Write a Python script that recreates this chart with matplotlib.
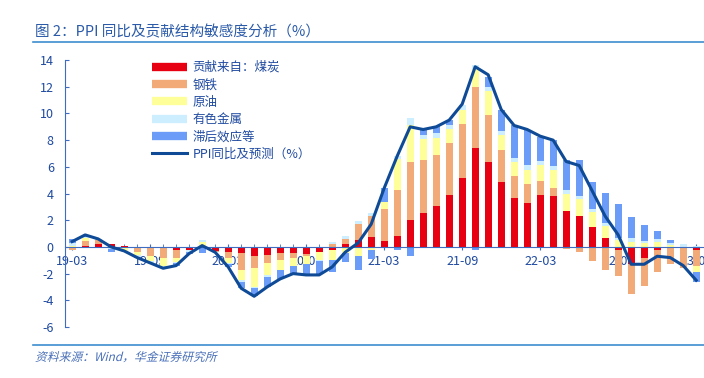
import matplotlib
matplotlib.use("Agg")
import matplotlib.pyplot as plt
from matplotlib.lines import Line2D
from matplotlib.patches import PathPatch
from matplotlib.textpath import TextPath
from matplotlib.font_manager import FontProperties
from matplotlib.transforms import Affine2D
import numpy as np

plt.rcParams['font.family'] = ['Noto Sans CJK SC', 'DejaVu Sans']
plt.rcParams['axes.unicode_minus'] = False

# 月度数据 2019-03 ~ 2023-03
tick_labels = ["19-03", "19-09", "20-03", "20-09", "21-03", "21-09", "22-03", "22-09", "23-03"]

coal = [-0.1, 0.1, 0.25, 0.2, 0.1, 0.0, 0.0, 0.0, -0.2, -0.25,
        0.0, -0.3, -0.35, -0.45, -0.65, -0.6, -0.45, -0.45, -0.5, -0.4,
        -0.2, 0.2, 0.55, 0.75, 0.45, 0.85, 2.0, 2.55, 3.1, 3.9,
        5.2, 7.4, 6.35, 4.85, 3.7, 3.3, 3.9, 3.85, 2.7, 2.3,
        1.5, 0.7, -0.2, -1.25, -0.8, -0.2, 0.0, 0.0, -0.25]
steel = [-0.1, 0.35, 0.3, 0.05, -0.1, -0.4, -0.7, -0.85, -0.6, 0.0,
         0.05, -0.1, -0.45, -1.25, -0.95, -0.6, -0.55, -0.4, -0.2, 0.0,
         0.25, 0.4, 1.15, 1.55, 2.4, 3.4, 4.4, 4.0, 3.8, 3.9,
         4.0, 4.6, 3.55, 2.45, 1.65, 1.45, 1.05, 0.6, -0.15, -0.4,
         -1.05, -1.7, -2.0, -2.3, -2.15, -1.7, -1.3, -1.6, -1.15]
oil = [0.1, 0.2, 0.0, -0.05, -0.2, -0.2, -0.35, -0.55, -0.35, 0.0,
       0.35, 0.0, -0.4, -0.8, -1.4, -0.9, -0.7, -0.55, -0.55, -0.6,
       -0.75, -0.45, -0.65, -0.2, 0.55, 2.35, 2.75, 1.5, 1.25, 1.05,
       1.05, 1.3, 1.8, 1.1, 1.0, 1.05, 1.2, 1.3, 1.25, 1.3,
       1.1, 0.9, 0.5, 0.4, 0.3, 0.4, 0.15, 0.0, -0.45]
nonferrous = [0.2, 0.1, 0.05, -0.1, -0.1, -0.15, -0.15, -0.15, -0.05, -0.1,
              0.15, 0.0, -0.1, -0.1, -0.1, -0.15, -0.05, -0.05, -0.05, -0.05,
              0.15, 0.2, 0.25, 0.25, 0.0, 0.25, 0.5, 0.35, 0.4, 0.3,
              0.4, 0.35, 0.3, 0.3, 0.3, 0.35, 0.3, 0.35, 0.35, 0.25,
              0.25, 0.2, 0.2, 0.25, 0.15, 0.2, 0.15, 0.25, 0.1]
lag = [0.3, 0.1, 0.0, -0.2, 0.0, -0.05, 0.0, -0.05, -0.25, -0.15,
       -0.45, 0.0, -0.2, -0.5, -0.6, -0.75, -0.65, -0.55, -0.8, -1.0,
       -0.95, -0.7, -1.05, -0.7, 1.0, -0.2, -0.65, 0.4, 0.5, 0.35,
       0.0, -0.25, 0.75, 1.55, 2.5, 2.6, 1.8, 1.9, 2.25, 2.65,
       2.05, 2.25, 2.5, 1.6, 1.2, 0.6, 0.25, 0.0, -0.75]
ppi = [0.4, 0.9, 0.6, 0.0, -0.3, -0.8, -1.2, -1.6, -1.4, -0.5,
       0.1, -0.4, -1.5, -3.1, -3.7, -3.0, -2.4, -2.0, -2.1, -2.1,
       -1.5, -0.4, 0.3, 1.7, 4.4, 6.8, 9.0, 8.8, 9.0, 9.5,
       10.7, 13.5, 12.9, 10.3, 9.1, 8.8, 8.3, 8.0, 6.4, 6.1,
       4.2, 2.3, 0.9, -1.3, -1.3, -0.7, -0.8, -1.4, -2.5]

series = [
    ("贡献来自：煤炭", coal, "#E60012"),
    ("钢铁", steel, "#F2AA78"),
    ("原油", oil, "#FFFF99"),
    ("有色金属", nonferrous, "#CCEEFF"),
    ("滞后效应等", lag, "#6A9CF8"),
]
line_color = "#0F4A96"
text_color = "#1F4AA0"

fig = plt.figure(figsize=(7.04, 3.78), dpi=100)
ax = fig.add_axes([0.0923, 0.135, 0.9077, 0.706])

x = np.arange(len(ppi))
pos_bottom = np.zeros(len(x))
neg_bottom = np.zeros(len(x))
handles = []
for name, vals, color in series:
    v = np.array(vals)
    pos = np.where(v > 0, v, 0)
    neg = np.where(v < 0, v, 0)
    ax.bar(x, pos, 0.55, bottom=pos_bottom, color=color, linewidth=0, zorder=2)
    ax.bar(x, neg, 0.55, bottom=neg_bottom, color=color, linewidth=0, zorder=2)
    pos_bottom += pos
    neg_bottom += neg
    handles.append(Line2D([0], [0], color=color, lw=6, solid_capstyle="butt", label=name))

ax.plot(x, ppi, color=line_color, lw=2.2, zorder=3)
handles.append(Line2D([0], [0], color=line_color, lw=2.2, label="PPI同比及预测（%）"))

# 坐标轴
ax.set_xlim(-0.55, 48.6)
ax.set_ylim(-6, 14)
ax.set_yticks(range(-6, 15, 2))
ax.set_xticks(range(0, 49, 6))
ax.set_xticklabels(tick_labels)
ax.set_xticks(x, minor=True)
for s in ["top", "right"]:
    ax.spines[s].set_visible(False)
ax.spines["bottom"].set_position(("data", 0))
ax.spines["bottom"].set_color("#3D6CC0")
ax.spines["left"].set_color("#3D6CC0")
ax.tick_params(axis="y", direction="in", length=3, colors="#3D6CC0",
               labelcolor=text_color, labelsize=9, pad=8)
ax.tick_params(axis="x", which="major", direction="inout", length=5, colors="#3D6CC0",
               labelcolor=text_color, labelsize=9, pad=3)
ax.tick_params(axis="x", which="minor", direction="in", length=2.5, colors="#3D6CC0")

leg = ax.legend(handles=handles, loc="upper left", bbox_to_anchor=(0.125, 1.025),
                frameon=False, fontsize=9, handlelength=2.8, labelspacing=0.35,
                handletextpad=0.4, borderaxespad=0.2)
for t in leg.get_texts():
    t.set_color(text_color)

# 标题和来源
fig.text(0.05, 0.915, "图 2：PPI 同比及贡献结构敏感度分析（%）", fontsize=10.5,
         color="#2A5AA8", va="center")
fig.add_artist(Line2D([0.047, 1.0], [0.889, 0.889], color="#3C8DD0", lw=1.2))
fig.add_artist(Line2D([0.047, 1.0], [0.087, 0.087], color="#3C8DD0", lw=1.2))

# 来源文字（CJK字体没有斜体，用倾斜变换模拟）
src = TextPath((0, 0), "资料来源：Wind，华金证券研究所", size=8.5,
               prop=FontProperties(family=['Noto Sans CJK SC', 'DejaVu Sans']))
tr = Affine2D().skew_deg(14, 0).scale(1 / 72.).translate(0.35, 0.17) + fig.dpi_scale_trans
fig.add_artist(PathPatch(src, transform=tr, color="#4A70B8", lw=0))

plt.savefig("out.png", dpi=100)
